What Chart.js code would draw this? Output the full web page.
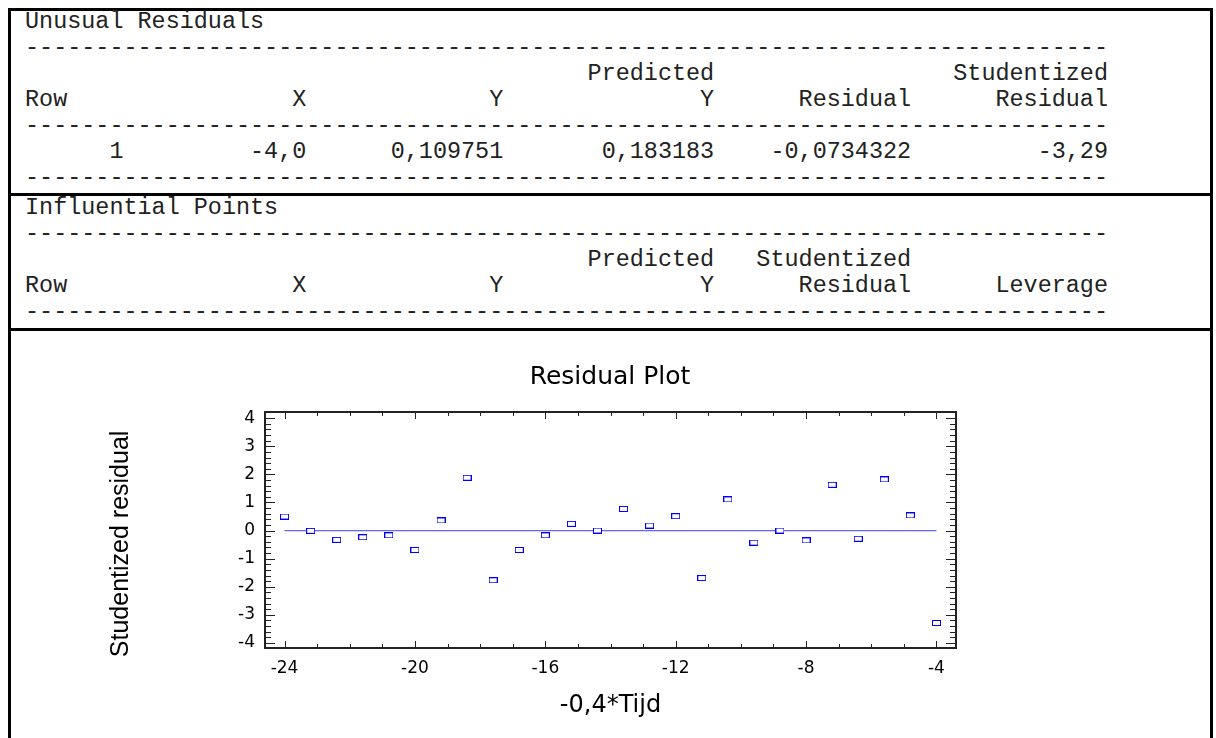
<!DOCTYPE html>
<html>
<head>
<meta charset="utf-8">
<script src="https://cdn.jsdelivr.net/npm/chart.js@4.4.1/dist/chart.umd.min.js"></script>
<style>
  body { margin: 0; background: #fff; width: 1216px; height: 738px; overflow: hidden; position: relative; }
  .rule { position: absolute; background: #000; }
  pre { position: absolute; margin: 0; font-family: "Liberation Mono", "Courier New", monospace;
        font-size: 23.45px; line-height: 26px; color: #222; }
  #wrap { position: absolute; left: 10px; top: 330px; width: 1200px; height: 408px; }
</style>
</head>
<body>
<div class="rule" style="left:8px;top:8px;width:1205px;height:3px"></div>
<div class="rule" style="left:8px;top:8px;width:3px;height:730px"></div>
<div class="rule" style="left:1210px;top:8px;width:3px;height:730px"></div>
<div class="rule" style="left:8px;top:193px;width:1205px;height:3px"></div>
<div class="rule" style="left:8px;top:328px;width:1205px;height:3px"></div>

<pre id="unusual" style="left:25px;top:9px"></pre>
<pre id="influential" style="left:25px;top:195px"></pre>

<div id="wrap"><canvas id="residChart" width="1200" height="408"></canvas></div>

<script>
// table text (fixed width, as printed)
const dashes = '-'.repeat(77);
const unusualLines = [
  'Unusual Residuals',
  dashes,
  '                                        Predicted                 Studentized',
  'Row                X             Y              Y      Residual      Residual',
  dashes,
  '      1         -4,0      0,109751       0,183183    -0,0734322         -3,29',
  dashes
];
const influentialLines = [
  'Influential Points',
  dashes,
  '                                        Predicted   Studentized',
  'Row                X             Y              Y      Residual      Leverage',
  dashes
];
document.getElementById('unusual').textContent = unusualLines.join('\n');
document.getElementById('influential').textContent = influentialLines.join('\n');

// residual plot data
const xVals = [-24, -23.2, -22.4, -21.6, -20.8, -20, -19.2, -18.4, -17.6, -16.8, -16, -15.2, -14.4,
               -13.6, -12.8, -12, -11.2, -10.4, -9.6, -8.8, -8, -7.2, -6.4, -5.6, -4.8, -4];
const residuals = [0.50, -0.01, -0.33, -0.24, -0.17, -0.69, 0.36, 1.88, -1.77, -0.69, -0.17, 0.24, 0.0,
                   0.77, 0.18, 0.51, -1.69, 1.11, -0.43, 0.0, -0.35, 1.63, -0.29, 1.82, 0.54, -3.29];
const fitX = [-24, -4];
const fitY = [0, 0];
const xTicks = [-24, -20, -16, -12, -8, -4];
const yTicks = [-4, -3, -2, -1, 0, 1, 2, 3, 4];

function boxMarker() {
  const c = document.createElement('canvas');
  c.width = 9; c.height = 6;
  const g = c.getContext('2d');
  g.fillStyle = '#fff';
  g.fillRect(0, 0, 9, 6);
  g.strokeStyle = '#0000ff';
  g.lineWidth = 1;
  g.strokeRect(0.5, 0.5, 8, 5);
  return c;
}

// frame with inward ticks on all four sides
const frameTicks = {
  id: 'frameTicks',
  afterDatasetsDraw(chart) {
    const { ctx, chartArea: a, scales: { x, y } } = chart;
    ctx.save();
    ctx.strokeStyle = '#222';
    ctx.lineWidth = 1;
    ctx.beginPath();
    for (let v = Math.ceil(x.min); v <= x.max; v += 1) {
      const px = Math.round(x.getPixelForValue(v)) + 0.5;
      const len = xTicks.includes(v) ? 7 : 4;
      ctx.moveTo(px, a.bottom); ctx.lineTo(px, a.bottom - len);
      ctx.moveTo(px, a.top); ctx.lineTo(px, a.top + len);
    }
    for (let i = -20; i <= 20; i++) {
      const v = i / 5;
      const py = Math.round(y.getPixelForValue(v)) + 0.5;
      const len = i % 5 === 0 ? 10 : 6;
      ctx.moveTo(a.left, py); ctx.lineTo(a.left + len, py);
      ctx.moveTo(a.right, py); ctx.lineTo(a.right - len, py);
    }
    ctx.stroke();
    ctx.lineWidth = 2;
    ctx.strokeRect(a.left, a.top, a.right - a.left, a.bottom - a.top);
    ctx.restore();
  }
};

const ctx = document.getElementById('residChart').getContext('2d');
new Chart(ctx, {
  type: 'scatter',
  data: {
    datasets: [{
      data: xVals.map((v, i) => ({ x: v, y: residuals[i] })),
      pointStyle: boxMarker(),
      pointRadius: 4
    }, {
      data: fitX.map((v, i) => ({ x: v, y: fitY[i] })),
      showLine: true,
      borderColor: 'rgb(100,100,255)',
      borderWidth: 1.2,
      pointRadius: 0
    }]
  },
  options: {
    responsive: false,
    animation: false,
    devicePixelRatio: 1,
    layout: { padding: 0 },
    plugins: {
      legend: { display: false },
      tooltip: { enabled: false },
      title: {
        display: true,
        text: 'Residual Plot',
        color: '#000',
        font: { family: 'DejaVu Sans', size: 25, weight: 'normal' },
        padding: { top: 32, bottom: 20 }
      }
    },
    scales: {
      x: {
        type: 'linear',
        min: -24.6,
        max: -3.4,
        afterBuildTicks: s => { s.ticks = xTicks.map(v => ({ value: v })); },
        afterFit: s => { s.height = 90; },
        grid: { display: false, drawTicks: false },
        border: { display: false },
        ticks: { color: '#000', padding: 10, autoSkip: false, maxRotation: 0,
                 font: { family: 'DejaVu Sans', size: 17 } },
        title: { display: true, text: '-0,4*Tijd', color: '#000',
                 font: { family: 'DejaVu Sans', size: 24 }, padding: { top: 0, bottom: 18 } }
      },
      y: {
        type: 'linear',
        min: -4.18,
        max: 4.22,
        afterBuildTicks: s => { s.ticks = yTicks.map(v => ({ value: v })); },
        afterFit: s => { s.width = 255; },
        grid: { display: false, drawTicks: false },
        border: { display: false },
        ticks: { color: '#000', padding: 10, autoSkip: false,
                 font: { family: 'DejaVu Sans', size: 17 } },
        title: { display: true, text: 'Studentized residual    ', color: '#000',
                 font: { family: 'Liberation Sans', size: 25 }, padding: { top: 96, bottom: 0 } }
      },
      // empty right-hand axis, only keeps the plot clear of the right margin
      yRight: {
        type: 'linear',
        position: 'right',
        afterFit: s => { s.width = 254; },
        grid: { display: false, drawTicks: false },
        border: { display: false },
        ticks: { display: false }
      }
    }
  },
  plugins: [frameTicks]
});
</script>
</body>
</html>
